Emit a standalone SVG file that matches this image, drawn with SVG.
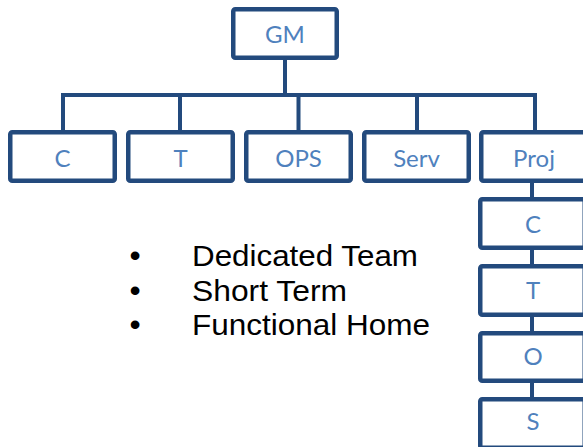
<svg xmlns="http://www.w3.org/2000/svg" width="583" height="447" viewBox="0 0 583 447">
<style>
.box{fill:#fff;stroke:#234a7d;stroke-width:4.5}
.lbl{font-family:Lato,"Open Sans",sans-serif;font-size:24px;fill:#4f81bd;text-anchor:middle}
.conn{stroke:#234a7d;stroke-width:4;fill:none}
.bul{font-family:"Liberation Sans",Arial,sans-serif;font-size:29px;fill:#000}
.dot{font-family:"Liberation Sans",Arial,sans-serif;font-size:32px;fill:#000;text-anchor:middle}
</style>
<rect width="583" height="447" fill="#fff"/>
<g id="connectors">
<path class="conn" d="M285 60V95M61 95H537M63 95V130M180 95V130M298.5 95V130M417 95V130M535 95V130"/>
<path class="conn" d="M532 183V197M532 250V264M532 317V331M532 383V397"/>
</g>
<g id="gm"><rect class="box" x="233.25" y="9.25" width="103.5" height="48.5" rx="2"/><text class="lbl" x="285" y="43">GM</text></g>
<g id="c"><rect class="box" x="10.25" y="132.25" width="104.5" height="48.5" rx="2"/><text class="lbl" x="62.5" y="167">C</text></g>
<g id="t"><rect class="box" x="128.25" y="132.25" width="104.5" height="48.5" rx="2"/><text class="lbl" x="180.5" y="167">T</text></g>
<g id="ops"><rect class="box" x="246.25" y="132.25" width="104.5" height="48.5" rx="2"/><text class="lbl" x="298.5" y="167">OPS</text></g>
<g id="serv"><rect class="box" x="364.25" y="132.25" width="104.5" height="48.5" rx="2"/><text class="lbl" x="416.5" y="167">Serv</text></g>
<g id="proj"><rect class="box" x="481.25" y="132.25" width="104.5" height="48.5" rx="2"/><text class="lbl" x="534" y="167">Proj</text></g>
<g id="proj-c"><rect class="box" x="480.25" y="199.25" width="104.5" height="48.5" rx="2"/><text class="lbl" x="533" y="233">C</text></g>
<g id="proj-t"><rect class="box" x="480.25" y="266.25" width="104.5" height="48.5" rx="2"/><text class="lbl" x="533" y="299">T</text></g>
<g id="proj-o"><rect class="box" x="480.25" y="333.25" width="104.5" height="47.5" rx="2"/><text class="lbl" x="533" y="365">O</text></g>
<g id="proj-s"><rect class="box" x="480.25" y="399.25" width="104.5" height="48.5" rx="2"/><text class="lbl" x="533" y="430">S</text></g>
<g id="bullets">
<text class="dot" x="135" y="266">•</text>
<text class="dot" x="135" y="300.5">•</text>
<text class="dot" x="135" y="335">•</text>
<text class="bul" x="192" y="266" textLength="226" lengthAdjust="spacingAndGlyphs">Dedicated Team</text>
<text class="bul" x="192" y="300.5" textLength="155" lengthAdjust="spacingAndGlyphs">Short Term</text>
<text class="bul" x="192" y="335" textLength="238" lengthAdjust="spacingAndGlyphs">Functional Home</text>
</g>
</svg>
